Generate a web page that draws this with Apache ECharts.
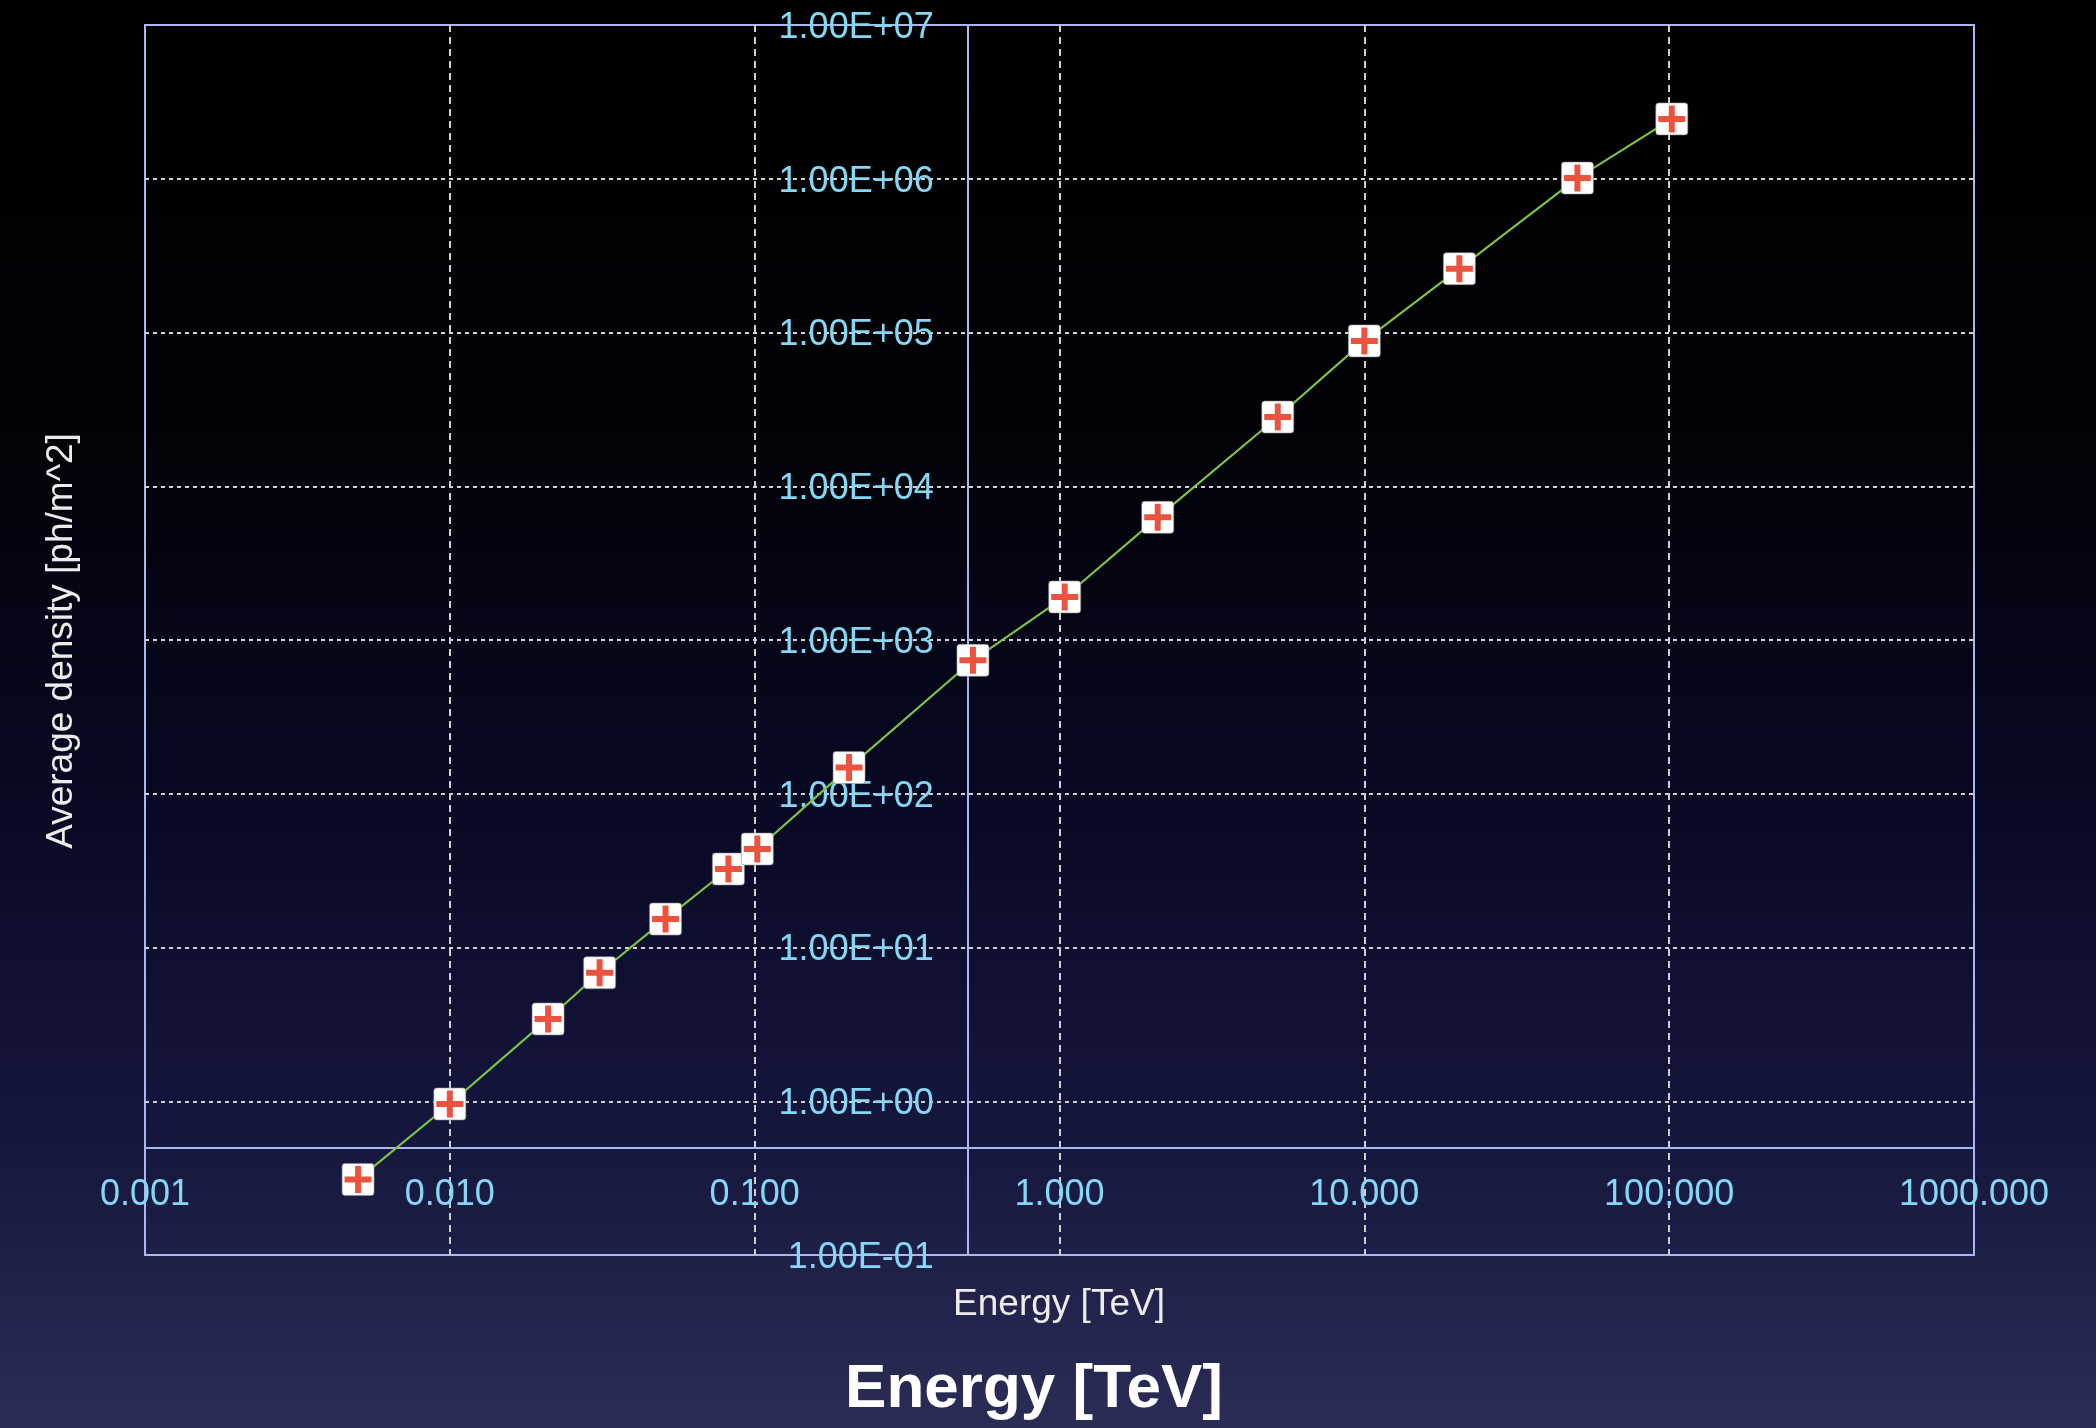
<!DOCTYPE html>
<html>
<head>
<meta charset="utf-8">
<script src="https://cdn.jsdelivr.net/npm/echarts@6/dist/echarts.min.js"></script>
<style>
  html, body { margin: 0; padding: 0; background: #000; }
  #chart { width: 2096px; height: 1428px; }
</style>
</head>
<body>
<div id="chart"></div>
<script>
// Photon density measured at each primary energy
const energyTeV = [0.005, 0.01, 0.021, 0.031, 0.051, 0.082, 0.102, 0.204, 0.52, 1.04, 2.1, 5.2, 10.0, 20.5, 50.0, 102.0];
const densityPhM2 = [0.31, 0.96, 3.43, 6.85, 15.3, 32.4, 43.7, 148, 738, 1905, 6280, 28200, 88200, 260000, 1010000, 2450000];

// Decade tick labels
const xTickLabels = ['0.001', '0.010', '0.100', '1.000', '10.000', '100.000', '1000.000'];
const yTickLabels = ['1.00E-01', '1.00E+00', '1.00E+01', '1.00E+02', '1.00E+03', '1.00E+04', '1.00E+05', '1.00E+06', '1.00E+07'];

const xMinExp = -3, xMaxExp = 3;
const yMinExp = -1, yMaxExp = 7;
const crossX = 0.5;   // vertical axis crosses here
const crossY = 0.5;   // horizontal axis crosses here

const points = energyTeV.map((e, i) => [e, densityPhM2[i]]);

const gridLeft = 145, gridTop = 25, gridW = 1829, gridH = 1230;
const xToPx = v => gridLeft + (Math.log10(v) - xMinExp) / (xMaxExp - xMinExp) * gridW;
const yToPx = v => gridTop + gridH - (Math.log10(v) - yMinExp) / (yMaxExp - yMinExp) * gridH;

const FONT = '"Liberation Sans", Arial, Helvetica, sans-serif';
const frameColor = '#a9b8f0';
const tickColor = '#86d7f4';

const chart = echarts.init(document.getElementById('chart'), null, { renderer: 'canvas' });

chart.setOption({
  animation: false,
  backgroundColor: new echarts.graphic.LinearGradient(0, 0, 0, 1, [
    { offset: 0.0, color: '#000000' },
    { offset: 0.3, color: '#020207' },
    { offset: 0.55, color: '#080823' },
    { offset: 0.8, color: '#16173e' },
    { offset: 1.0, color: '#2b2d56' }
  ]),
  grid: {
    left: gridLeft, top: gridTop, width: gridW, height: gridH,
    show: true, borderColor: frameColor, borderWidth: 2,
    backgroundColor: 'transparent'
  },
  xAxis: {
    type: 'log', logBase: 10,
    min: Math.pow(10, xMinExp), max: Math.pow(10, xMaxExp),
    interval: 1, splitNumber: 6,
    position: 'bottom',
    offset: -(gridTop + gridH - yToPx(crossY)),
    axisLine: { show: true, lineStyle: { color: frameColor, width: 2 } },
    axisTick: { show: false },
    minorTick: { show: false },
    axisLabel: {
      color: tickColor, fontSize: 36, fontFamily: FONT, margin: 30,
      formatter: v => xTickLabels[Math.round(Math.log10(v)) - xMinExp]
    },
    splitLine: {
      show: true, showMinLine: false, showMaxLine: false,
      lineStyle: { color: '#cfcfcf', width: 2, type: [7, 5] }
    }
  },
  yAxis: {
    type: 'log', logBase: 10,
    min: Math.pow(10, yMinExp), max: Math.pow(10, yMaxExp),
    interval: 1, splitNumber: 8,
    position: 'left',
    offset: -(xToPx(crossX) - gridLeft),
    axisLine: { show: true, lineStyle: { color: frameColor, width: 2 } },
    axisTick: { show: false },
    minorTick: { show: false },
    axisLabel: {
      margin: 34,
      formatter: v => '{t|' + yTickLabels[Math.round(Math.log10(v)) - yMinExp] + '}',
      rich: {
        t: { color: tickColor, fontSize: 36, fontFamily: FONT, padding: [6, 0, 0, 0] }
      }
    },
    splitLine: {
      show: true, showMinLine: false, showMaxLine: false,
      lineStyle: { color: '#d2d2d2', width: 2, type: [4, 4] }
    }
  },
  series: [
    {
      type: 'line',
      data: points,
      z: 3,
      lineStyle: { color: '#7cc443', width: 2.2 },
      symbol: 'path://M3,0H29A3,3,0,0,1,32,3V29A3,3,0,0,1,29,32H3A3,3,0,0,1,0,29V3A3,3,0,0,1,3,0Z',
      symbolSize: 32,
      itemStyle: { color: '#ffffff', borderColor: '#8a8a8a', borderWidth: 0.6 }
    },
    {
      type: 'scatter',
      data: points,
      z: 4,
      symbol: 'path://M10.5,0H16.5V10.5H27V16.5H16.5V27H10.5V16.5H0V10.5H10.5Z',
      symbolSize: 27,
      itemStyle: { color: '#e6280f' }
    }
  ],
  graphic: [
    {
      type: 'text', x: 62, y: 641, rotation: Math.PI / 2,
      style: {
        text: 'Average density [ph/m^2]', fill: '#ececec',
        font: '37px ' + FONT, textAlign: 'center', textVerticalAlign: 'middle'
      }
    },
    {
      type: 'text', x: 1059, y: 1305,
      style: {
        text: 'Energy [TeV]', fill: '#ececec',
        font: '37px ' + FONT, textAlign: 'center', textVerticalAlign: 'middle'
      }
    },
    {
      type: 'text', x: 1034, y: 1390,
      style: {
        text: 'Energy [TeV]', fill: '#ffffff',
        font: 'bold 62px ' + FONT, textAlign: 'center', textVerticalAlign: 'middle'
      }
    }
  ]
});
</script>
</body>
</html>
